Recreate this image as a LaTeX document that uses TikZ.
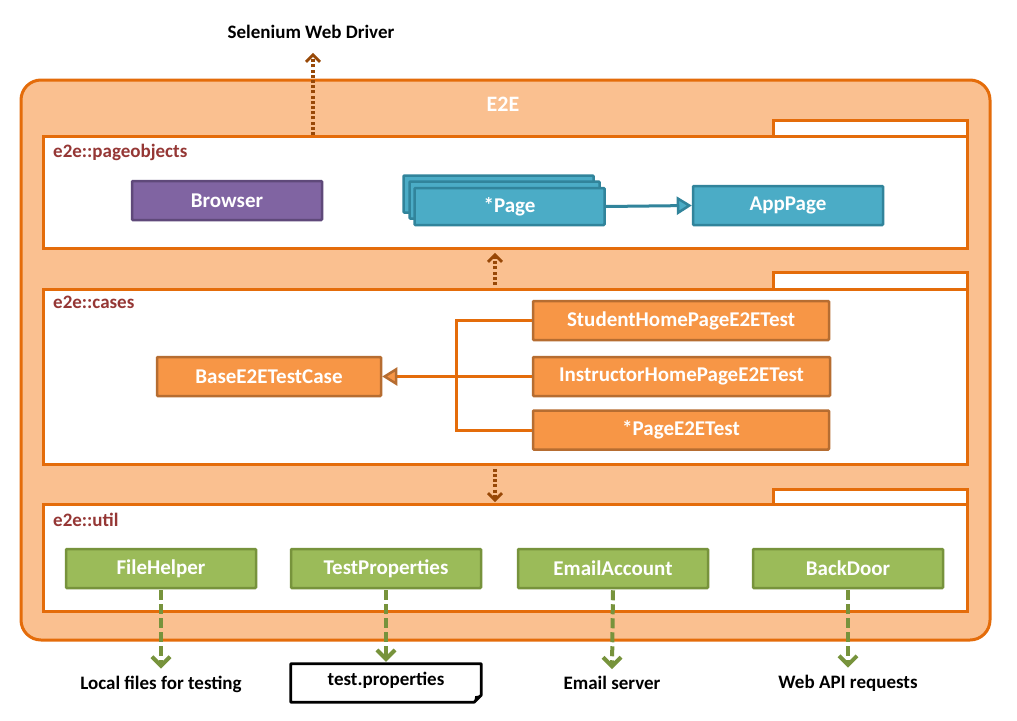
\documentclass[tikz,border=0pt]{standalone}
\usepackage{fontspec}
\setmainfont{Carlito}
\usetikzlibrary{arrows.meta}
\definecolor{pkgO}{HTML}{E46C0A}
\definecolor{bgO}{HTML}{FAC090}
\definecolor{lblR}{HTML}{953735}
\definecolor{purF}{HTML}{8064A2}
\definecolor{purD}{HTML}{5F497A}
\definecolor{tealF}{HTML}{4BACC6}
\definecolor{tealD}{HTML}{31849B}
\definecolor{orF}{HTML}{F79646}
\definecolor{orD}{HTML}{B66D31}
\definecolor{grF}{HTML}{9BBB59}
\definecolor{grD}{HTML}{77933C}
\definecolor{brD}{HTML}{984807}
\tikzset{
  pkgbox/.style={draw=pkgO, line width=2.8pt, fill=white, anchor=north west, inner sep=0pt},
  pkglbl/.style={text=lblR, anchor=west, font=\bfseries\fontsize{19}{22}\selectfont, inner sep=0pt},
  cls/.style={draw, line width=2.5pt, rounded corners=1pt, inner sep=0pt, minimum height=39pt, text=white, font=\bfseries\fontsize{21}{24}\selectfont},
  purcls/.style={cls, draw=purD, fill=purF, minimum width=190pt},
  tealcls/.style={cls, draw=tealD, fill=tealF, minimum width=190pt, minimum height=37pt},
  orcls/.style={cls, draw=orD, fill=orF},
  grcls/.style={cls, draw=grD, fill=grF, minimum width=190pt},
  extlbl/.style={text=black, font=\bfseries\fontsize{19}{22}\selectfont, inner sep=0pt},
  dotline/.style={draw=brD, line width=3.6pt, dash pattern=on 3pt off 2.2pt, shorten >=2pt},
  dottip/.style={draw=brD, line width=2.8pt, solid, -{Straight Barb[length=7pt, width=14pt, line width=2.8pt]}},
  grline/.style={draw=grD, line width=4pt, dash pattern=on 10pt off 4pt, shorten >=3pt},
  grtip/.style={draw=grD, line width=4pt, solid, -{Straight Barb[length=9pt, width=18pt, line width=4pt]}},
  inhline/.style={draw=pkgO, line width=3pt},
}
\begin{document}
\begin{tikzpicture}[x=1pt, y=-1pt]
\useasboundingbox (0,0) rectangle (1017,720);
% outer E2E
\draw[pkgO, line width=3pt, fill=bgO, rounded corners=20pt] (21,80) rectangle (990,640);
\node[text=white, font=\bfseries\fontsize{22}{26}\selectfont] (e2e) at (503,104) {E2E};

% package tabs
\node[pkgbox, minimum width=194pt, minimum height=17pt] (potab) at (772,119) {};
\node[pkgbox, minimum width=194pt, minimum height=18pt] (catab) at (772,271) {};
\node[pkgbox, minimum width=194pt, minimum height=16pt] (uttab) at (772,488) {};
% packages
\node[pkgbox, minimum width=924pt, minimum height=112pt] (po) at (42,135) {};
\node[pkgbox, minimum width=924pt, minimum height=175pt] (ca) at (42,288) {};
\node[pkgbox, minimum width=924pt, minimum height=107pt] (ut) at (42,503) {};
\node[pkglbl] (polbl) at (53,152) {e2e::pageobjects};
\node[pkglbl] (calbl) at (53,302) {e2e::cases};
\node[pkglbl] (utlbl) at (53,520) {e2e::util};

% pageobjects
\node[purcls] (browser) at (227,200.5) {Browser};
\node[tealcls] (p3) at (498.5,194) {};
\node[tealcls] (p2) at (504.5,200) {};
\node[tealcls] (page) at (509.5,206.5) {*Page};
\node[tealcls, minimum height=39pt] (app) at (788,205.5) {AppPage};
\draw[draw=tealD, line width=3pt, -{Triangle[length=15pt, width=18pt, fill=tealF, line width=2.5pt]}] (page.east) -- (app.west);

% Selenium
\node[extlbl] (sel) at (311,32) {Selenium Web Driver};
\coordinate (selx) at (313,0);
\coordinate (selend) at ([yshift=-14pt]sel.south -| selx);
\draw[dotline] (po.north -| selx) -- (selend);
\draw[dottip] ([yshift=-4pt]selend) -- (selend);

% cases
\node[orcls, minimum width=224pt] (base) at (269,376.5) {BaseE2ETestCase};
\node[orcls, minimum width=296pt] (stud) at (681,320.5) {StudentHomePageE2ETest};
\node[orcls, minimum width=297pt] (inst) at (681.5,376.5) {InstructorHomePageE2ETest};
\node[orcls, minimum width=296pt] (star) at (681,430) {*PageE2ETest};
\coordinate (jx) at (456,0);
\draw[inhline] (stud.west) -- (stud.west -| jx) -- (star.west -| jx) -- (star.west);
\draw[inhline, -{Triangle[length=15pt, width=18pt, fill=orF, color=orD, line width=2.5pt]}] (inst.west) -- (base.east);

% inter-package dependencies
\coordinate (dx) at (495,0);
\coordinate (e1) at ([yshift=-3pt]po.south -| dx);
\coordinate (e2) at ([yshift=1pt]ut.north -| dx);
\draw[dotline] ([yshift=3pt]ca.north -| dx) -- (e1);
\draw[dottip] ([yshift=-4pt]e1) -- (e1);
\draw[dotline] ([yshift=-3pt]ca.south -| dx) -- (e2);
\draw[dottip] ([yshift=4pt]e2) -- (e2);

% util
\node[grcls] (fh) at (161,568.5) {FileHelper};
\node[grcls] (tp) at (386,568.5) {TestProperties};
\node[grcls] (ea) at (613,568.5) {EmailAccount};
\node[grcls] (bd) at (848,568.5) {BackDoor};

% externals
\node[extlbl] (lf) at (161,684) {Local files for testing};
\node[minimum width=190pt, minimum height=38pt, inner sep=0pt] (tpf) at (386,683) {};
\draw[black, line width=2.8pt, line join=round] (tpf.north west) -- (tpf.north east) -- ([yshift=7pt]tpf.south east) -- ([xshift=-7pt]tpf.south east) -- (tpf.south west) -- cycle;
\fill[black] ([yshift=7pt]tpf.south east) -- ([xshift=-7pt]tpf.south east) -- ([xshift=-6pt,yshift=6pt]tpf.south east) -- cycle;
\node[extlbl] (tptext) at (386,680) {test.properties};
\node[extlbl] (es) at (612,683) {Email server};
\node[extlbl] (wa) at (848,683) {Web API requests};

\coordinate (g1) at ([yshift=7pt]lf.north);
\coordinate (g2) at ([yshift=2pt]tpf.north);
\coordinate (g3) at ([yshift=7pt]es.north);
\coordinate (g4) at ([yshift=7pt]wa.north);
\draw[grline] ([yshift=-1pt]fh.south) -- (g1);
\draw[grtip] ([yshift=6pt]g1) -- (g1);
\draw[grline] ([yshift=-1pt]tp.south) -- (g2);
\draw[grtip] ([yshift=6pt]g2) -- (g2);
\draw[grline] ([yshift=-1pt]ea.south) -- (g3);
\draw[grtip] ([yshift=6pt]g3) -- (g3);
\draw[grline] ([yshift=-1pt]bd.south) -- (g4);
\draw[grtip] ([yshift=6pt]g4) -- (g4);
\end{tikzpicture}
\end{document}
